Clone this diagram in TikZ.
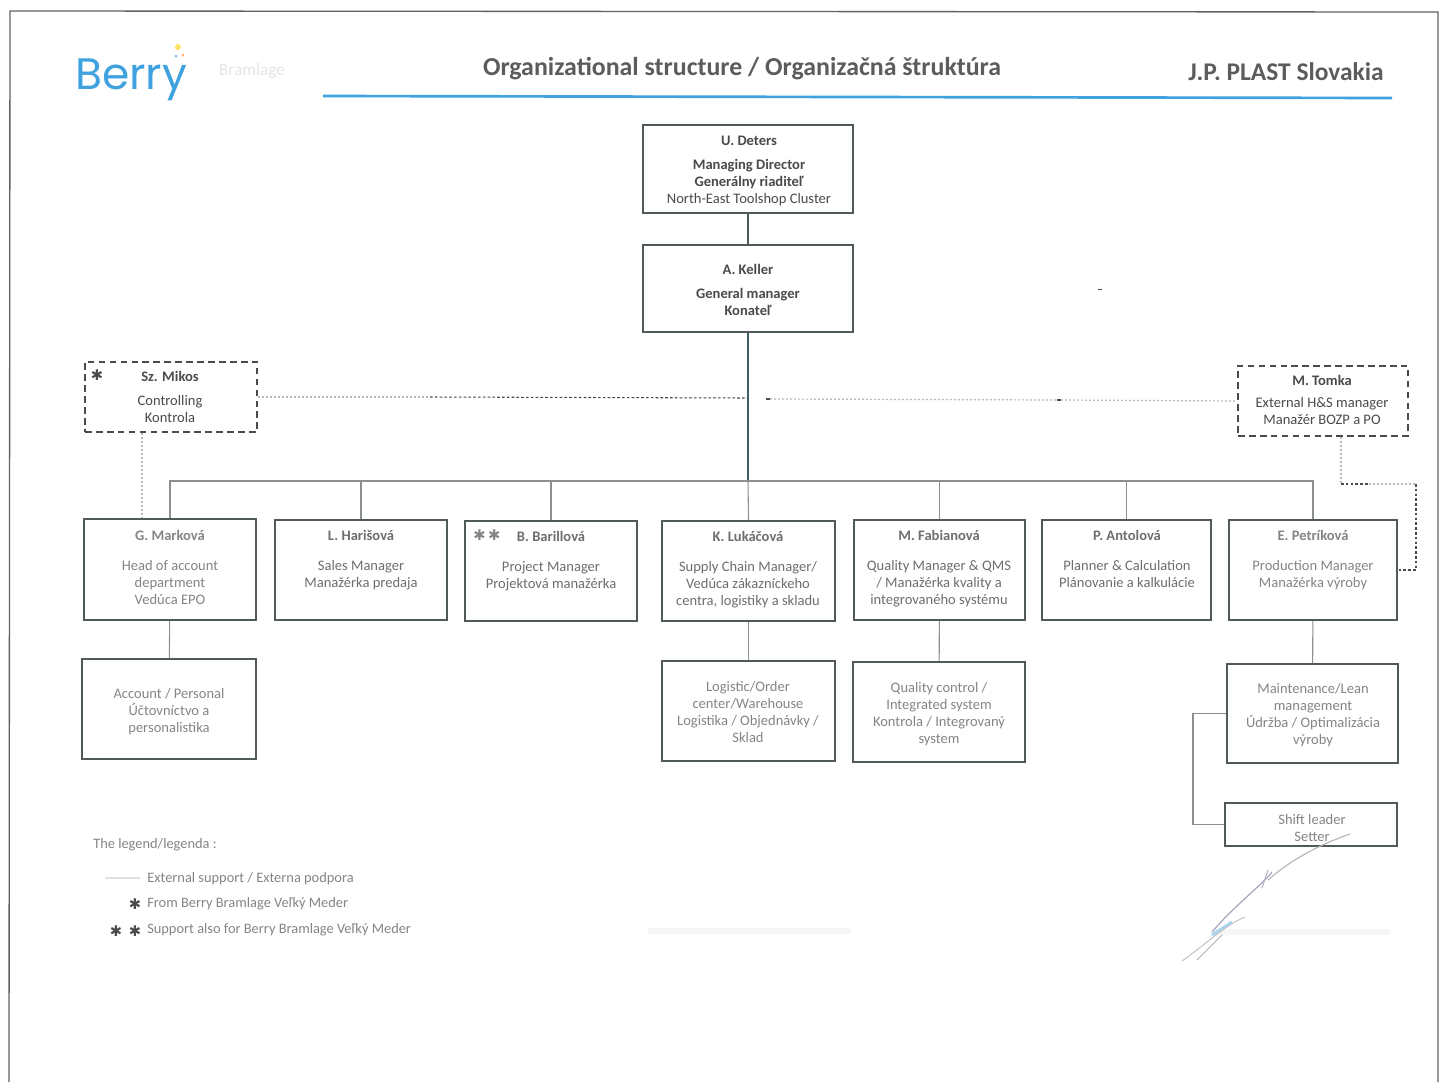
\documentclass[tikz,border=0pt]{standalone}
\usepackage{fontspec}
\setmainfont{Carlito}
\newfontfamily\logofont{Poppins}
\newfontfamily\symfont{DejaVu Sans}
\usetikzlibrary{calc}
\definecolor{ink}{HTML}{4A4A4A}
\definecolor{midink}{HTML}{6E6E6E}
\definecolor{softink}{HTML}{858585}
\definecolor{edge}{HTML}{505A5A}
\definecolor{wire}{HTML}{8C9090}
\definecolor{trunk}{HTML}{3E5F66}
\definecolor{berry}{HTML}{3FA2DE}
\tikzset{
  orgbox/.style={draw=edge,line width=1.5pt,inner sep=0pt,fill=white},
  dashbox/.style={draw=ink,line width=1.5pt,dash pattern=on 5pt off 3.2pt,inner sep=0pt,fill=white},
  txt/.style={font=\fontsize{10.9}{12.75}\selectfont,align=center,inner sep=0pt,anchor=north,text=softink},
  txtdark/.style={txt,text=midink},
  txtblack/.style={txt,text=ink},
  wireline/.style={draw=wire,line width=.8pt},
  faintdot/.style={draw=black!28,line width=.9pt,dash pattern=on 1.5pt off 1.5pt},
  darkdot/.style={draw=ink,line width=.8pt,dash pattern=on 2pt off 1.6pt},
  legendtxt/.style={font=\fontsize{10.8}{12}\selectfont,inner sep=0pt,anchor=west,text=softink},
  star/.style={font=\symfont\fontsize{11}{12}\selectfont,inner sep=0pt,text=ink},
  smudge/.style={draw=black!4,line width=4pt,line cap=round}
}
\newcommand{\obox}[6][orgbox]{%
  \pgfmathsetmacro{\bw}{(#5-#3)*.75}\pgfmathsetmacro{\bh}{(#6-#4)*.75}%
  \pgfmathsetmacro{\bx}{(#3+#5)/2}\pgfmathsetmacro{\by}{(#4+#6)/2}%
  \node[#1,minimum width=\bw pt,minimum height=\bh pt] (#2) at (\bx,\by) {};}
\begin{document}
\begin{tikzpicture}[x=.75pt,y=-.75pt]
\useasboundingbox (0,0) rectangle (1442,1082);
\fill[white] (0,0) rectangle (1442,1082);
% page frame
\draw[draw=black!62,line width=1pt] (9,1082) -- (10,11) -- (1438,12) -- (1438,1082);
% header
\node[font=\logofont\fontsize{33}{35}\selectfont,text=berry,inner sep=0pt,anchor=base west] (logo) at (75,89) {Berry};
\fill[yellow!70!orange!60] (178,47) circle (3);
\fill[orange!60] (183,55) circle (1.5);
\fill[berry!70] (176,56) circle (1.5);
\node[font=\fontsize{13}{15}\selectfont,text=black!10,inner sep=0pt] (bram) at (252,71) {Bramlage};
\node[font=\bfseries\fontsize{19.4}{21}\selectfont,text=ink!90,inner sep=0pt] (title) at (742,69) {Organizational structure / Organizačná štruktúra};
\node[font=\bfseries\fontsize{19.1}{21}\selectfont,text=ink!90,inner sep=0pt] (plant) at (1286,72) {J.P. PLAST Slovakia};
\coordinate (ruleL) at (323,96);
\coordinate (ruleR) at (1392,98);
\draw[draw=berry,line width=2pt] (ruleL) -- (ruleR);
% coordinates of connectors
\coordinate (bus) at (748,481);
\coordinate (mk) at (142,432);
\coordinate (tl) at (1341,484);
\coordinate (tr) at (1416,484);
\coordinate (dotA) at (430,397);
\coordinate (dotB) at (748,398);
\coordinate (dotC) at (766,399);
\coordinate (dotD) at (770,399);
\coordinate (dotE) at (1057,400);
\coordinate (dotF) at (1061,400);
\coordinate (scratch) at (1098,289);
% boxes
\obox{deters}{643}{125}{853}{213}
\obox{keller}{643}{245}{853}{332}
\obox[dashbox]{mikos}{85}{362}{257}{432}
\obox[dashbox]{tomka}{1238}{366}{1408}{436}
\obox{markova}{84}{519}{256}{620}
\obox{harisova}{275}{520}{447}{620}
\obox{barillova}{465}{521}{637}{621}
\obox{lukacova}{662}{521}{835}{621}
\obox{fabianova}{854}{520}{1025}{620}
\obox{antolova}{1042}{520}{1211}{620}
\obox{petrikova}{1229}{520}{1397}{620}
\obox{account}{82}{659}{256}{759}
\obox{logistic}{662}{661}{835}{761}
\obox{quality}{853}{662}{1025}{762}
\obox{maint}{1227}{664}{1398}{763}
\obox{shift}{1225}{803}{1397}{846}
% connectors
\draw[draw=edge,line width=1pt] (deters) -- (keller);
\draw[draw=trunk,line width=1.5pt] (keller) -- (bus);
\foreach \b in {markova,harisova,barillova,antolova,petrikova,fabianova}
  \draw[wireline] (\b.north) |- (bus);
\draw[wireline] (lukacova.north) -- (bus);
\draw[wireline] (markova) -- (account);
\draw[wireline] (lukacova) -- (logistic);
\draw[wireline] (fabianova) -- (quality);
\draw[wireline] (petrikova) -- (maint);
\draw[wireline] (maint.west) -- ++(-33,0) |- (shift.west);
% dotted support lines
\draw[faintdot] (mikos.east) -- (dotA);
\draw[darkdot] (dotA) -- (dotB);
\draw[draw=ink,line width=1pt] (dotC) -- (dotD);
\draw[faintdot] (dotD) -- (dotE);
\draw[draw=ink,line width=1pt] (dotE) -- (dotF);
\draw[faintdot] (dotF) -- (tomka.west);
\draw[faintdot] (mikos.south -| mk) -- (markova.north -| mk);
\draw[faintdot] (tomka.south -| tl) -- (tl);
\draw[darkdot] (tl) -- ++(28,0);
\draw[faintdot] ($(tl)+(28,0)$) -- (tr);
\draw[darkdot] (tr) |- (petrikova.east);
\fill[ink] (scratch) rectangle ++(4,1);
% box texts
\node[txtblack] (deters-t) at (749,136) {\bfseries U. Deters\\[5pt]\bfseries Managing Director\\\bfseries Generálny riaditeľ\\North-East Toolshop Cluster};
\node[txtblack] (keller-t) at (748,264) {\bfseries A. Keller\\[5pt]\bfseries General manager\\\bfseries Konateľ};
\node[txtblack] (mikos-t) at (170,371) {\bfseries Sz. Mikos\\[5pt]Controlling\\Kontrola};
\node[star] (mikos-s) at (97,375) {✱};
\node[txtblack] (tomka-t) at (1322,375) {\bfseries M. Tomka\\[4pt]External H\&S manager\\Manažér BOZP a PO};
\node[txt] (markova-t) at (170,530) {\bfseries G. Marková\\[10pt]Head of account\\department\\Vedúca EPO};
\node[txtdark] (harisova-t) at (361,530) {\bfseries L. Harišová\\[10pt]Sales Manager\\Manažérka predaja};
\node[txtdark] (barillova-t) at (551,531) {\bfseries B. Barillová\\[10pt]Project Manager\\Projektová manažérka};
\node[star,text=softink] (barillova-s) at (487,535) {✱\,✱};
\node[txtdark] (lukacova-t) at (748,531) {\bfseries K. Lukáčová\\[10pt]Supply Chain Manager/\\Vedúca zákazníckeho\\centra, logistiky a skladu};
\node[txtdark] (fabianova-t) at (939,530) {\bfseries M. Fabianová\\[10pt]Quality Manager \& QMS\\/ Manažérka kvality a\\integrovaného systému};
\node[txtdark] (antolova-t) at (1127,530) {\bfseries P. Antolová\\[10pt]Planner \& Calculation\\Plánovanie a kalkulácie};
\node[txt] (petrikova-t) at (1313,530) {\bfseries E. Petríková\\[10pt]Production Manager\\Manažérka výroby};
\node[txt] (account-t) at (169,688) {Account / Personal\\Účtovníctvo a\\personalistika};
\node[txt] (logistic-t) at (748,681) {Logistic/Order\\center/Warehouse\\Logistika / Objednávky /\\Sklad};
\node[txt] (quality-t) at (939,682) {Quality control /\\Integrated system\\Kontrola / Integrovaný\\system};
\node[txt] (maint-t) at (1313,683) {Maintenance/Lean\\management\\Údržba / Optimalizácia\\výroby};
\node[txt] (shift-t) at (1312,814) {Shift leader\\Setter};
% legend
\node[legendtxt] (leg0) at (93,845) {The legend/legenda :};
\coordinate (legA) at (105,878);
\coordinate (legB) at (140,878);
\draw[draw=black!12,line width=.8pt] (legA) -- (legB);
\node[legendtxt] (leg1) at (147,879) {External support / Externa podpora};
\node[star] (leg2s) at (135,904) {✱};
\node[legendtxt] (leg2) at (147,904) {From Berry Bramlage Veľký Meder};
\node[star] (leg3a) at (116,931) {✱};
\node[star] (leg3b) at (135,931) {✱};
\node[legendtxt] (leg3) at (147,930) {Support also for Berry Bramlage Veľký Meder};
% faint stamps and signature
\draw[smudge] (650,931) -- (848,931);
\draw[smudge] (1215,932) -- (1388,932);
\draw[draw=black!30,line width=.8pt] (1350,834) .. controls (1310,848) and (1285,865) .. (1268,880);
\draw[draw=blue!30!black!35,line width=.9pt] (1272,872) .. controls (1262,885) and (1235,905) .. (1212,932);
\draw[draw=blue!30!black!30,line width=.8pt] (1268,870) -- (1262,888);
\draw[draw=berry!45,line width=2.2pt] (1212,935) -- (1232,922);
\draw[draw=black!25,line width=.7pt] (1245,917) .. controls (1225,925) and (1205,945) .. (1182,961);
\draw[draw=black!30,line width=.7pt] (1222,935) -- (1197,960);
\end{tikzpicture}
\end{document}
